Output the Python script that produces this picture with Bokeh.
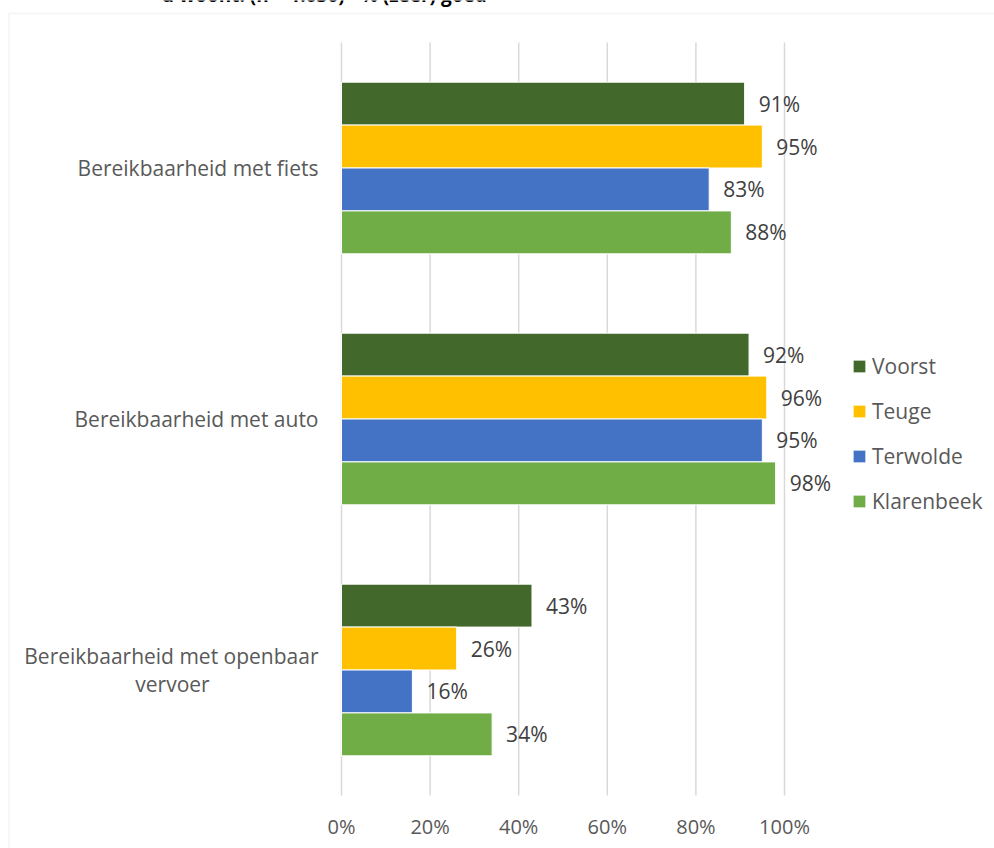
from bokeh.plotting import figure
from bokeh.models import (ColumnDataSource, Range1d, Legend, LegendItem, Label, BoxAnnotation)
from bokeh.transform import dodge
from bokeh.core.properties import value
from bokeh.embed import file_html
from bokeh.resources import INLINE

# ---- data ----
categories = ["Bereikbaarheid met fiets", "Bereikbaarheid met auto",
              "Bereikbaarheid met openbaar\nvervoer"]
series = ["Voorst", "Teuge", "Terwolde", "Klarenbeek"]
voorst = [91, 92, 43]
teuge = [95, 96, 26]
terwolde = [83, 95, 16]
klarenbeek = [88, 98, 34]
colors = ["#43682B", "#FFC000", "#4472C4", "#70AD47"]
x_ticks = [0, 20, 40, 60, 80, 100]
x_tick_labels = ["0%", "20%", "40%", "60%", "80%", "100%"]
title_text = "u woont: (n = 1.030) - % (zeer) goed"

# ---- layout constants (picture pixels) ----
FONT = "Open Sans"
OX, OY = 0, 0           # picture position of the canvas
W, H = 994, 848
PX_PER_PCT = 4.43       # 100% = 443 px
X0_PAGE = 341           # picture x of 0%
GROUP_PX = 251          # height of one category band
BASE_PAGE = 795         # picture y of the bottom of the plot area

def xd(page_x):
    return (page_x - X0_PAGE) / PX_PER_PCT

def yd(page_y):
    return (BASE_PAGE - page_y) / GROUP_PX

x_start, x_end = xd(OX), xd(OX + W)
y_start, y_end = yd(OY + H), yd(OY)

ncat = len(categories)
centers = [ncat - i - 0.5 for i in range(ncat)]
values = [voorst, teuge, terwolde, klarenbeek]
offsets = [0.2565, 0.0855, -0.0855, -0.2565]

src = {"yc": centers}
for name, vals in zip(series, values):
    src[name] = vals
    src[name + "_lbl"] = [f"{v}%" for v in vals]
source = ColumnDataSource(src)

p = figure(width=W, height=H, output_backend="svg", toolbar_location=None,
           x_range=Range1d(x_start, x_end), y_range=Range1d(y_start, y_end),
           min_border=0, x_axis_location=None, y_axis_location=None,
           outline_line_color=None, background_fill_color="white", border_fill_color="white")
p.grid.visible = False

# gridlines
p.segment(x0=x_ticks, y0=[0] * len(x_ticks), x1=x_ticks, y1=[ncat] * len(x_ticks),
          line_color="#D9D9D9", line_width=1.5)

renderers = []
for name, col, off in zip(series, colors, offsets):
    r = p.hbar(y=dodge("yc", off), left=0, right=name, height=0.171,
               source=source, fill_color=col, line_color="white", line_width=1)
    renderers.append(r)
    p.text(x=name, y=dodge("yc", off), text=name + "_lbl", source=source,
           x_offset=14, text_align="left", text_baseline="middle",
           text_font=value(FONT), text_font_size="21px", text_color="#404040")

# x tick labels
p.text(x=x_ticks, y=[0] * len(x_ticks), text=x_tick_labels, y_offset=31,
       text_align="center", text_baseline="middle",
       text_font=value(FONT), text_font_size="20px", text_color="#595959")

# category labels (first line right aligned, continuation centred under it)
first_lines, first_y, first_dy = [], [], []
cont_lines, cont_y = [], []
for c, yc in zip(categories, centers):
    lines = c.split("\n")
    first_lines.append(lines[0])
    first_y.append(yc)
    first_dy.append(-14 * (len(lines) - 1))
    for ln in lines[1:]:
        cont_lines.append(ln)
        cont_y.append(yc)
p.text(x=[0] * len(first_lines), y=first_y, text=first_lines, x_offset=-23, y_offset=first_dy,
       text_align="right", text_baseline="middle",
       text_font=value(FONT), text_font_size="21px", text_color="#595959")
p.text(x=[0] * len(cont_lines), y=cont_y, text=cont_lines, x_offset=-23 - 146, y_offset=14,
       text_align="center", text_baseline="middle",
       text_font=value(FONT), text_font_size="21px", text_color="#595959")

# legend
legend = Legend(items=[LegendItem(label=s, renderers=[r]) for s, r in zip(series, renderers)],
                location=(851 - OX, 333), glyph_width=16, glyph_height=16, label_height=21,
                spacing=17, padding=0, margin=0, label_standoff=5,
                border_line_color=None, background_fill_alpha=0,
                label_text_font=FONT, label_text_font_size="21px", label_text_color="#595959")
p.add_layout(legend, "center")

# chart border and cut-off title
p.add_layout(BoxAnnotation(left=xd(8.5), right=x_end + 50, top=yd(13), bottom=y_start - 1,
                           fill_color=None, line_color="#D9D9D9", line_width=1.5))
p.add_layout(Label(x=xd(161), y=yd(-5.5), text=title_text, text_font=FONT,
                   text_font_size="19px", text_font_style="bold", text_color="black",
                   text_baseline="alphabetic"))

open("out.html", "w").write(file_html(p, INLINE))
